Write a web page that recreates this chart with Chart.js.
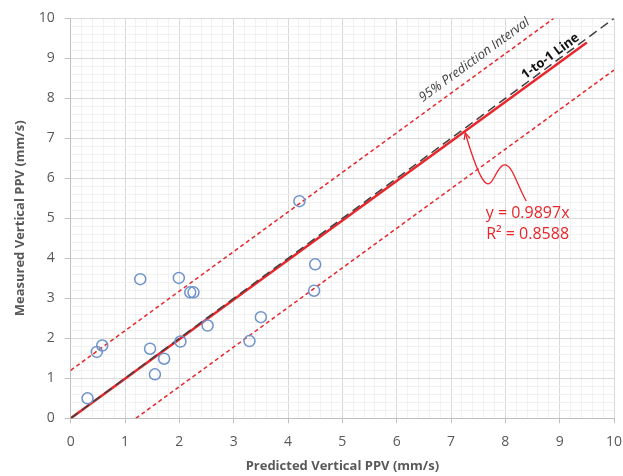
<!DOCTYPE html>
<html>
<head>
<meta charset="utf-8">
<script src="https://cdn.jsdelivr.net/npm/chart.js@4"></script>
<style>
  html, body { margin: 0; padding: 0; background: #fff; }
  #wrap { width: 623px; height: 476px; }
</style>
</head>
<body>
<div id="wrap"><canvas id="ppvChart" width="623" height="476"></canvas></div>
<script>
// measured vs predicted points
var predicted = [0.31, 0.48, 0.58, 1.28, 1.46, 1.55, 1.72, 1.99, 2.02, 2.20, 2.26, 2.52, 3.29, 3.50, 4.21, 4.50, 4.48];
var measured  = [0.50, 1.66, 1.82, 3.48, 1.74, 1.10, 1.49, 3.51, 1.92, 3.15, 3.15, 2.32, 1.93, 2.53, 5.43, 3.85, 3.19];

// line end points
var fitX = [0, 9.5];
var fitY = [0, 9.4];
var oneX = [0, 10];
var oneY = [0, 10];
var upperX = [0, 8.89];
var upperY = [1.2, 10];
var lowerX = [1.2, 10];
var lowerY = [0, 8.71];

var axisTicks = [0, 1, 2, 3, 4, 5, 6, 7, 8, 9, 10];

var eqLines = ["y = 0.9897x", "R\u00b2 = 0.8588"];

function pairs(xs, ys) {
  var out = [];
  for (var i = 0; i < xs.length; i++) out.push({ x: xs[i], y: ys[i] });
  return out;
}

function isMajor(v) {
  return Math.abs(v - Math.round(v)) < 1e-6;
}

var RED = "#e8262b";
var GREY = "#595959";
var FONT = "'Open Sans', sans-serif";

// curvy arrow, in data units
var arrowPath = [
  [8.385, 5.433],
  [8.200, 5.883], [8.110, 6.420], [7.960, 6.330],
  [7.814, 6.233], [7.759, 5.708], [7.620, 5.908],
  [7.501, 6.083], [7.354, 6.708], [7.262, 7.133]
];

var notesPlugin = {
  id: "notes",
  afterDatasetsDraw: function (chart) {
    var ctx = chart.ctx;
    var xs = chart.scales.x, ys = chart.scales.y;
    function px(p) { return [xs.getPixelForValue(p[0]), ys.getPixelForValue(p[1])]; }
    ctx.save();

    // arrow
    var p = arrowPath.map(px);
    ctx.strokeStyle = RED;
    ctx.lineWidth = 1.3;
    ctx.beginPath();
    ctx.moveTo(p[0][0], p[0][1]);
    for (var i = 1; i + 2 < p.length; i += 3) {
      ctx.bezierCurveTo(p[i][0], p[i][1], p[i + 1][0], p[i + 1][1], p[i + 2][0], p[i + 2][1]);
    }
    ctx.stroke();
    var tip = p[p.length - 1], from = p[p.length - 2];
    var a = Math.atan2(tip[1] - from[1], tip[0] - from[0]);
    ctx.beginPath();
    ctx.moveTo(tip[0] - 7 * Math.cos(a - 0.45), tip[1] - 7 * Math.sin(a - 0.45));
    ctx.lineTo(tip[0], tip[1]);
    ctx.lineTo(tip[0] - 7 * Math.cos(a + 0.45), tip[1] - 7 * Math.sin(a + 0.45));
    ctx.stroke();

    // equation
    ctx.fillStyle = RED;
    ctx.font = "16px " + FONT;
    ctx.textAlign = "center";
    ctx.textBaseline = "middle";
    var e1 = px([8.41, 5.12]), e2 = px([8.41, 4.61]);
    ctx.fillText(eqLines[0], e1[0], e1[1]);
    ctx.fillText(eqLines[1], e2[0], e2[1]);

    // rotated labels along lines
    var u0 = px([upperX[0], upperY[0]]), u1 = px([upperX[1], upperY[1]]);
    var ang = Math.atan2(u1[1] - u0[1], u1[0] - u0[0]);
    var c = px([7.43, 8.96]);
    ctx.translate(c[0], c[1]);
    ctx.rotate(ang);
    ctx.fillStyle = "#404040";
    ctx.font = "italic 13px " + FONT;
    ctx.fillText("95% Prediction Interval", 0, 0);
    ctx.setTransform(1, 0, 0, 1, 0, 0);

    var o0 = px([oneX[0], oneY[0]]), o1 = px([oneX[1], oneY[1]]);
    var ang2 = Math.atan2(o1[1] - o0[1], o1[0] - o0[0]);
    var c2 = px([8.83, 9.05]);
    ctx.translate(c2[0], c2[1]);
    ctx.rotate(ang2);
    ctx.fillStyle = "#111";
    ctx.font = "bold 13px " + FONT;
    ctx.fillText("1-to-1 Line", 0, 0);
    ctx.restore();
  }
};

function gridColor(c) {
  return isMajor(c.tick.value) ? "#d9d9d9" : "#f1f1f1";
}
function tickMarkColor(c) {
  return isMajor(c.tick.value) ? "#bfbfbf" : "rgba(0,0,0,0)";
}

new Chart("ppvChart", {
  type: "scatter",
  data: {
    datasets: [
      {
        label: "Data",
        data: pairs(predicted, measured),
        pointStyle: "circle",
        pointRadius: 5.5,
        pointHoverRadius: 5.5,
        borderWidth: 1.5,
        borderColor: "#7093cc",
        backgroundColor: "rgba(0,0,0,0)",
        showLine: false,
        order: 0
      },
      {
        label: "1-to-1",
        data: pairs(oneX, oneY),
        showLine: true,
        borderColor: "#404040",
        borderWidth: 1.5,
        borderDash: [9, 5],
        pointRadius: 0,
        order: 1
      },
      {
        label: "Fit",
        data: pairs(fitX, fitY),
        showLine: true,
        borderColor: RED,
        borderWidth: 2.5,
        pointRadius: 0,
        order: 2
      },
      {
        label: "Upper PI",
        data: pairs(upperX, upperY),
        showLine: true,
        borderColor: RED,
        borderWidth: 1.5,
        borderDash: [4, 3],
        pointRadius: 0,
        order: 3
      },
      {
        label: "Lower PI",
        data: pairs(lowerX, lowerY),
        showLine: true,
        borderColor: RED,
        borderWidth: 1.5,
        borderDash: [4, 3],
        pointRadius: 0,
        order: 3
      }
    ]
  },
  options: {
    responsive: false,
    animation: false,
    layout: { padding: { top: 18, right: 9, left: 0, bottom: 0 } },
    plugins: {
      legend: { display: false },
      tooltip: { enabled: false }
    },
    scales: {
      x: {
        type: "linear",
        min: 0,
        max: 10,
        afterFit: function (s) {
          s.height = 57.7;
          s.paddingLeft = 0;
          s.paddingRight = 0;
        },
        grid: { color: gridColor, tickColor: tickMarkColor, tickLength: 5 },
        border: { color: "#bfbfbf" },
        ticks: {
          stepSize: 0.2,
          autoSkip: false,
          maxRotation: 0,
          padding: 10,
          color: GREY,
          font: { family: FONT, size: 14 },
          callback: function (v) { return isMajor(v) && axisTicks.indexOf(Math.round(v)) >= 0 ? String(Math.round(v)) : ""; }
        },
        title: {
          display: true,
          text: "Predicted Vertical PPV (mm/s)",
          color: GREY,
          font: { family: FONT, size: 13, weight: "bold" },
          padding: { top: 0, bottom: 2 }
        }
      },
      y: {
        type: "linear",
        min: 0,
        max: 10,
        afterFit: function (s) { s.width = 70.7; },
        grid: { color: gridColor, tickColor: tickMarkColor, tickLength: 6 },
        border: { color: "#bfbfbf" },
        ticks: {
          stepSize: 0.2,
          autoSkip: false,
          padding: 10,
          color: GREY,
          font: { family: FONT, size: 14 },
          callback: function (v) { return isMajor(v) && axisTicks.indexOf(Math.round(v)) >= 0 ? String(Math.round(v)) : ""; }
        },
        title: {
          display: true,
          text: "Measured Vertical PPV (mm/s)",
          color: GREY,
          font: { family: FONT, size: 13, weight: "bold" },
          padding: { top: 12, bottom: 0 }
        }
      }
    }
  },
  plugins: [notesPlugin]
});
</script>
</body>
</html>
